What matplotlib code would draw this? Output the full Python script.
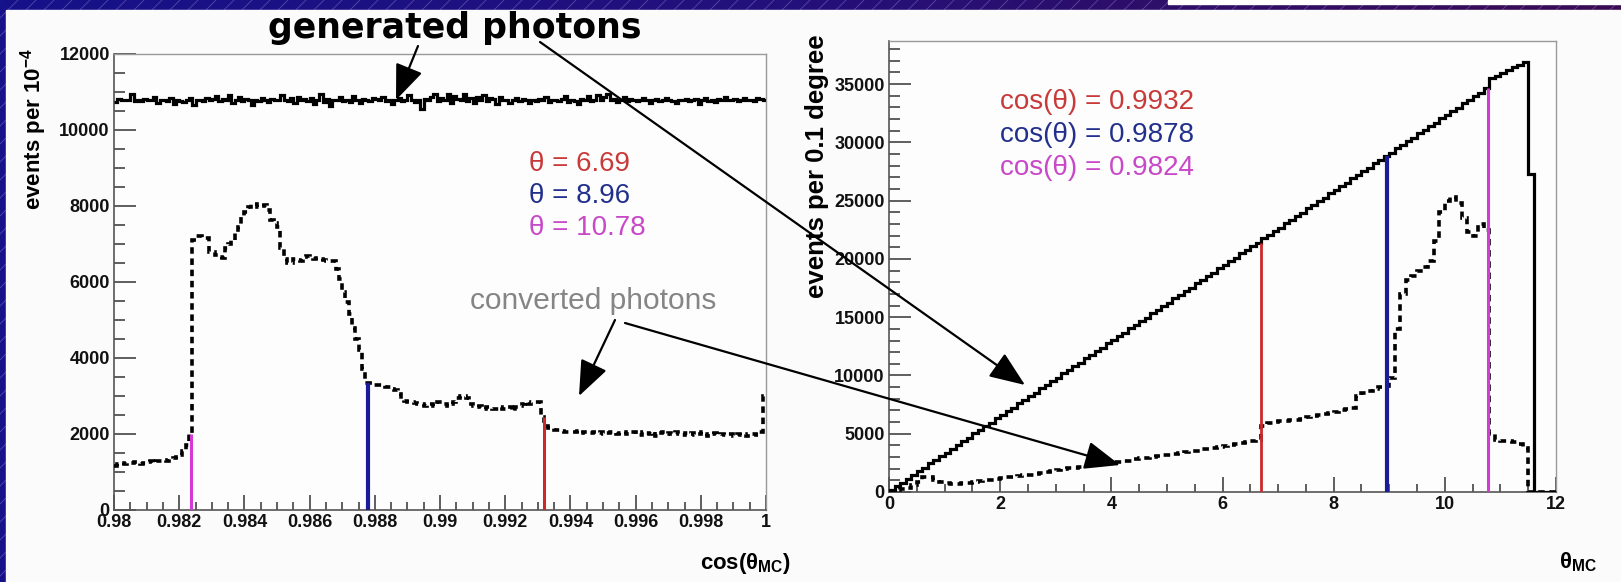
import numpy as np
import matplotlib
matplotlib.use("Agg")
import matplotlib.pyplot as plt
from matplotlib.colors import LinearSegmentedColormap
from matplotlib.patches import Rectangle
from matplotlib.ticker import MultipleLocator, FuncFormatter

plt.rcParams['font.family'] = ['Liberation Sans', 'DejaVu Sans']
plt.rcParams['mathtext.fontset'] = 'custom'
plt.rcParams['mathtext.rm'] = 'Liberation Sans'
plt.rcParams['mathtext.it'] = 'Liberation Sans:italic'
plt.rcParams['mathtext.bf'] = 'Liberation Sans:bold'

# ---- data: left panel, cos(theta_MC) from 0.98 to 1, bins of 1e-4 ----
gen_left = [
    10740, 10820, 10780, 10800, 10790, 10950, 10770, 10800, 10760, 10810,
    10790, 10780, 10880, 10720, 10800, 10790, 10760, 10840, 10680, 10800,
    10770, 10730, 10800, 10830, 10650, 10780, 10800, 10760, 10840, 10790,
    10810, 10890, 10760, 10820, 10780, 10930, 10700, 10800, 10860, 10770,
    10820, 10790, 10650, 10800, 10760, 10850, 10790, 10740, 10810, 10800,
    10780, 10920, 10800, 10760, 10830, 10700, 10880, 10790, 10810, 10760,
    10850, 10690, 10800, 10960, 10740, 10820, 10620, 10790, 10800, 10870,
    10760, 10800, 10740, 10900, 10780, 10720, 10810, 10800, 10760, 10840,
    10820, 10780, 10880, 10760, 10800, 10680, 10790, 10830, 10760, 10800,
    10910, 10780, 10740, 10800, 10560, 10820, 10790, 10870, 10960, 10760,
    10840, 10780, 10950, 10720, 10900, 10810, 10790, 10940, 10760, 10850,
    10700, 10880, 10790, 10920, 10760, 10830, 10810, 10690, 10860, 10780,
    10800, 10720, 10780, 10830, 10760, 10810, 10790, 10700, 10800, 10760,
    10820, 10790, 10860, 10740, 10800, 10780, 10760, 10810, 10890, 10740,
    10800, 10770, 10680, 10820, 10790, 10900, 10760, 10800, 10930, 10780,
    10860, 10960, 10790, 10820, 10740, 10800, 10880, 10760, 10820, 10790,
    10760, 10800, 10840, 10780, 10720, 10790, 10810, 10760, 10800, 10830,
    10790, 10760, 10700, 10800, 10780, 10820, 10760, 10790, 10810, 10680,
    10800, 10830, 10760, 10790, 10740, 10810, 10780, 10860, 10800, 10790,
    10820, 10760, 10800, 10840, 10780, 10800, 10760, 10830, 10820, 10800,
]
conv_left = [
    1150, 1200, 1250, 1220, 1250, 1240, 1260, 1240, 1200, 1250,
    1260, 1300, 1250, 1280, 1300, 1320, 1300, 1350, 1380, 1400,
    1450, 1550, 1700, 2000,
    7100, 7200, 7200, 7150, 7150, 6800, 6800, 6720, 6650, 6640,
    6900, 7000, 7100, 7280, 7450, 7700, 7840, 7970, 8050, 8060,
    7970, 8000, 8020, 7900, 7630, 7550, 7460, 6900, 6600, 6510,
    6510, 6600, 6580, 6550, 6650, 6680, 6620, 6600, 6620, 6600, 6580, 6550, 6550,
    6550, 6340, 6080, 5750, 5470, 5150, 4800, 4500, 4200, 3700, 3350,
    3350, 3300, 3300, 3280, 3280, 3250, 3230, 3190, 3150, 3050,
    2900, 2880, 2850, 2850, 2820, 2800, 2780, 2750,
    2800, 2800, 2750, 2850, 2850, 2800, 2750, 2800, 2850,
    2950, 3000, 3000, 2950, 2800, 2750,
    2700, 2750, 2650, 2700, 2700, 2650, 2650, 2700, 2650,
    2650, 2700, 2600, 2700, 2750, 2800, 2850, 2800, 2850, 2850, 2850,
    2450,
    2200, 2150, 2150, 2100, 2100,
    2080, 2050, 2060, 2040, 2050, 2070, 2020, 2050, 2060, 2030,
    2040, 2020, 2050, 2000, 2030, 2060, 2040, 2010, 2030, 2050,
    1990, 2040, 2060, 2010, 1980, 2050, 2020, 2000, 2040, 1960,
    2030, 2050, 2000, 2020, 1990, 2040, 2010, 1970, 2030, 2000,
    2020, 1980, 2010, 2040, 1990, 1960, 2000, 2030, 1980, 2010,
    1970, 2000, 1990, 1960, 2010, 1980, 2000, 1950, 1990, 2000,
    1980, 2050, 3000,
]

# ---- data: right panel, theta_MC from 0 to 12 degree, bins of 0.1 ----
gen_right = [
    150, 500, 780, 1150, 1420, 1800, 2060, 2450, 2720, 3090,
    3350, 3730, 4000, 4380, 4640, 5020, 5280, 5670, 5930, 6310,
    6570, 6950, 7220, 7600, 7860, 8240, 8500, 8890, 9150, 9530,
    9790, 10170, 10440, 10820, 11080, 11460, 11720, 12110, 12370, 12750,
    13010, 13390, 13660, 14040, 14300, 14680, 14940, 15330, 15590, 15970,
    16230, 16610, 16880, 17260, 17520, 17900, 18160, 18550, 18810, 19190,
    19450, 19830, 20100, 20480, 20740, 21120, 21380, 21770, 22030, 22410,
    22670, 23050, 23320, 23700, 23960, 24340, 24600, 24990, 25250, 25630,
    25890, 26270, 26540, 26920, 27180, 27560, 27820, 28210, 28470, 28850,
    29110, 29490, 29760, 30140, 30400, 30780, 31040, 31430, 31690, 32070,
    32330, 32710, 32980, 33360, 33620, 34000, 34260, 34650, 35550, 35700,
    35950, 36200, 36450, 36650, 36900, 27300, 0, 0, 0, 0,
]
conv_right = [
    100, 150, 250, 350, 600, 900, 1250, 1300, 1000, 850,
    750, 700, 700, 750, 800, 900, 950, 1000, 1050, 1100,
    1200, 1250, 1300, 1400, 1450, 1500, 1550, 1650, 1700, 1800,
    1900, 2000, 2050, 2100, 2150, 2250, 2300, 2350, 2400, 2450,
    2550, 2600, 2650, 2700, 2800, 2900, 2950, 3000, 3100, 3150,
    3200, 3300, 3350, 3400, 3500, 3550, 3650, 3700, 3800, 3900,
    3950, 4050, 4100, 4200, 4250, 4350, 4450, 5700, 5900, 6000,
    6050, 6100, 6150, 6200, 6300, 6400, 6500, 6600, 6700, 6800,
    6900, 7000, 7100, 7200, 8200, 8500, 8700, 8800, 9000, 9100,
    9800, 14000, 17000, 18200, 18500, 19000, 19300, 19800, 21500, 24000,
    25000, 25300, 24800, 23500, 22300, 22000, 23000, 22500, 5000, 4500,
    4400, 4400, 4300, 4100, 3800, 0, 0, 0, 0, 0,
]

theta_cut = [6.69, 8.96, 10.78]
cos_label = ["0.9932", "0.9878", "0.9824"]
cut_colors = ["#cc2a2a", "#1a1a9a", "#d63ad6"]
text_colors = ["#c83a3a", "#22308c", "#c848c8"]

W, H = 1621, 582
fig = plt.figure(figsize=(W / 100, H / 100), dpi=100)

# slide background: dark gradient with diagonal hatch, white panel on top
bg = fig.add_axes([0, 0, 1, 1], zorder=-5)
bg.set_xlim(0, W)
bg.set_ylim(H, 0)
bg.axis("off")
cmap = LinearSegmentedColormap.from_list("slide", ["#16128a", "#24107a", "#3a0c52"])
bg.imshow(np.linspace(0, 1, 256)[None, :], extent=[0, W, H, 0], aspect="auto", cmap=cmap)
for c in range(-H, W, 18):
    bg.plot([c, c + H], [H, 0], color="#8478c8", lw=0.6, alpha=0.55)
bg.add_patch(Rectangle((6, 10), W - 6, H - 10, color="#fbfbfb", zorder=3))
bg.add_patch(Rectangle((1168, 0), W - 1168, 4, color="white", zorder=3))

axL = fig.add_axes([114 / W, (H - 510) / H, 652 / W, 456 / H])
axR = fig.add_axes([889 / W, (H - 492) / H, 667 / W, 451 / H])

dash = (0, (1.8, 1.3))

# left: cos(theta_MC)
edgesL = np.linspace(0.98, 1.0, len(gen_left) + 1)
axL.stairs(gen_left, edgesL, baseline=None, color="black", lw=2.3, zorder=3)
axL.stairs(conv_left, edgesL, baseline=None, color="black", lw=2.6, linestyle=dash, zorder=3)
for th, col, lw in zip(theta_cut, cut_colors, [2.2, 3.0, 2.2]):
    c = np.cos(np.radians(th))
    k = int((c - 0.98) / 1e-4)
    axL.vlines(c, 0, conv_left[k], color=col, lw=lw, zorder=4)
axL.set_xlim(0.98, 1.0)
axL.set_ylim(0, 12000)
axL.xaxis.set_major_locator(MultipleLocator(0.002))
axL.xaxis.set_minor_locator(MultipleLocator(0.0005))
axL.yaxis.set_major_locator(MultipleLocator(2000))
axL.yaxis.set_minor_locator(MultipleLocator(500))
axL.xaxis.set_major_formatter(FuncFormatter(lambda v, p: f"{v:g}"))
axL.yaxis.set_major_formatter(FuncFormatter(lambda v, p: f"{v:.0f}"))

# right: theta_MC
edgesR = np.linspace(0, 12, len(gen_right) + 1)
axR.stairs(gen_right, edgesR, baseline=None, color="black", lw=2.3, zorder=3)
axR.stairs(conv_right, edgesR, baseline=None, color="black", lw=2.6, linestyle=dash, zorder=3)
for th, col, lw in zip(theta_cut, cut_colors, [2.0, 3.0, 2.2]):
    k = int(th / 0.1)
    axR.vlines(th, 0, gen_right[k], color=col, lw=lw, zorder=4)
axR.set_xlim(0, 12)
axR.set_ylim(0, 38700)
axR.xaxis.set_major_locator(MultipleLocator(2))
axR.xaxis.set_minor_locator(MultipleLocator(0.5))
axR.yaxis.set_major_locator(MultipleLocator(5000))
axR.yaxis.set_minor_locator(MultipleLocator(1000))
axR.xaxis.set_major_formatter(FuncFormatter(lambda v, p: f"{v:g}"))
axR.yaxis.set_major_formatter(FuncFormatter(lambda v, p: f"{v:.0f}"))

for ax in (axL, axR):
    ax.set_facecolor("#fdfdfd")
    ax.tick_params(axis="both", which="both", direction="in", top=False, right=False,
                   colors="#333333", width=1.1, pad=3)
    ax.tick_params(axis="y", which="major", length=16)
    ax.tick_params(axis="y", which="minor", length=8)
    ax.tick_params(axis="x", which="major", length=11)
    ax.tick_params(axis="x", which="minor", length=5.5)
    for lab in ax.get_xticklabels() + ax.get_yticklabels():
        lab.set_fontsize(13)
        lab.set_fontweight("bold")
        lab.set_color("#111111")
    for s in ("left", "bottom"):
        ax.spines[s].set_color("#555555")
        ax.spines[s].set_linewidth(1.2)
    for s in ("top", "right"):
        ax.spines[s].set_color("#9a9a9a")
        ax.spines[s].set_linewidth(1.0)

# overlay in pixel coordinates: titles, labels, arrows
ov = fig.add_axes([0, 0, 1, 1], zorder=10)
ov.set_xlim(0, W)
ov.set_ylim(H, 0)
ov.axis("off")

ov.text(34, 48, r"events per 10$^{\mathbf{-4}}$", rotation=90, ha="center", va="top",
        fontsize=16, fontweight="bold")
ov.text(817, 34, "events per 0.1 degree", rotation=90, ha="center", va="top",
        fontsize=18.5, fontweight="bold")
ov.text(791, 563, r"cos(θ$_{\mathbf{MC}}$)", ha="right", va="center",
        fontsize=16, fontweight="bold")
ov.text(1597, 562, r"θ$_{\mathbf{MC}}$", ha="right", va="center",
        fontsize=16, fontweight="bold")

ov.text(455, 38, "generated photons", ha="center", va="baseline",
        fontsize=25, fontweight="bold", color="black", family="DejaVu Sans")
ov.text(470, 309, "converted photons", ha="left", va="baseline",
        fontsize=21.5, color="#858585")

for i, (th, col) in enumerate(zip(theta_cut, text_colors)):
    ov.text(529, 171 + 32 * i, f"θ = {th}", ha="left", va="baseline",
            fontsize=20, color=col)
for i, (cl, col) in enumerate(zip(cos_label, text_colors)):
    ov.text(1000, 109 + 33 * i, f"cos(θ) = {cl}", ha="left", va="baseline",
            fontsize=20, color=col)

arrow_kw = dict(arrowstyle="-|>,head_length=0.55,head_width=0.22", color="black",
                lw=1.6, mutation_scale=40, shrinkA=0, shrinkB=0)
for start, tip in [((418, 46), (396, 100)),
                   ((540, 42), (1025, 385)),
                   ((615, 320), (579, 396)),
                   ((625, 323), (1120, 465))]:
    ov.annotate("", xy=tip, xytext=start, arrowprops=arrow_kw)

fig.savefig("out.png", dpi=100)
